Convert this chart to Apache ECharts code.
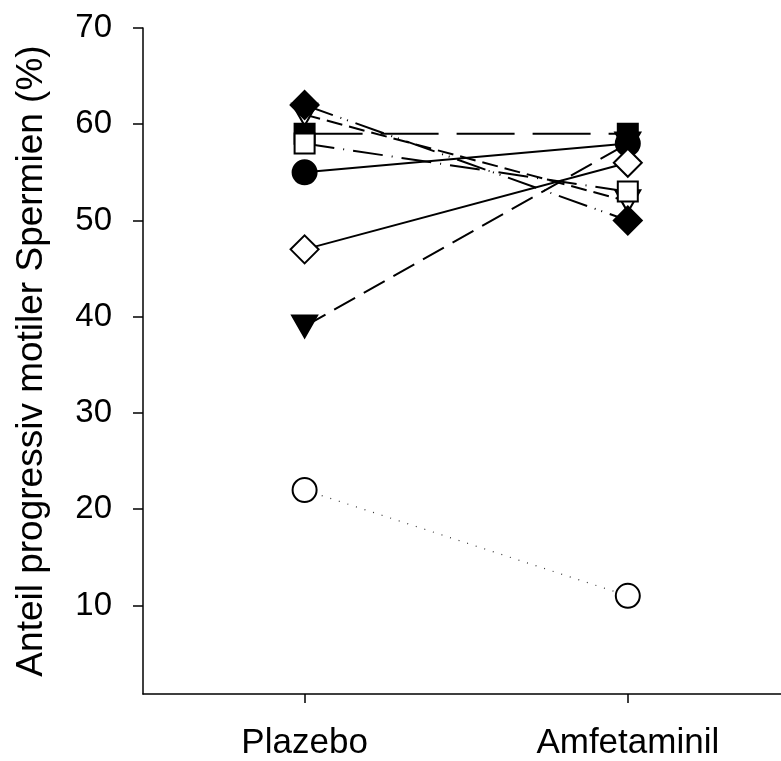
<!DOCTYPE html>
<html>
<head>
<meta charset="utf-8">
<script src="https://cdn.jsdelivr.net/npm/echarts@6/dist/echarts.min.js"></script>
<style>
  html, body { margin: 0; padding: 0; background: #fff; }
  #chart { width: 781px; height: 761px; }
</style>
</head>
<body>
<div id="chart"></div>
<script>
// ---- data ----
var categories = ['Plazebo', 'Amfetaminil'];
var yTicks = [10, 20, 30, 40, 50, 60, 70];
var openTriangleDown = [61, 52];
var filledCircle = [55, 58];
var filledSquare = [59, 59];
var openSquare = [58, 53];
var filledTriangleDown = [39, 58];
var filledDiamond = [62, 50];
var openDiamond = [47, 56];
var openCircle = [22, 11];

var FONT = '"Liberation Sans", Arial, Helvetica, sans-serif';
var catIdx = categories.map(function (c, i) { return i; });

function pairs(vals) {
  return vals.map(function (v, i) { return [i, v]; });
}

function mk(name, data, symbol, size, filled, lineType, extra) {
  var s = {
    name: name,
    type: 'line',
    data: pairs(data),
    symbol: symbol,
    symbolSize: size,
    showAllSymbol: true,
    lineStyle: { color: '#000', width: 2, type: lineType },
    itemStyle: { color: filled ? '#000' : '#fff', borderColor: '#000', borderWidth: 2, opacity: 1 },
    emphasis: { disabled: true },
    animation: false
  };
  if (extra) { for (var k in extra) s[k] = extra[k]; }
  return s;
}

var series = [
  mk('openTriangleDown', openTriangleDown, 'triangle', [25, 22], false, [16, 7], { symbolRotate: 180 }),
  mk('filledCircle', filledCircle, 'circle', 24, true, 'solid'),
  mk('filledSquare', filledSquare, 'rect', 20, true, [58, 18]),
  mk('openSquare', openSquare, 'rect', 20, false, [30, 9, 1, 9]),
  mk('filledTriangleDown', filledTriangleDown, 'triangle', [25, 22], true, [24, 10], { symbolRotate: 180 }),
  mk('filledDiamond', filledDiamond, 'diamond', [28, 28], true, [30, 8, 1, 6, 1, 8]),
  mk('openDiamond', openDiamond, 'diamond', [28, 28], false, 'solid'),
  mk('openCircle', openCircle, 'circle', 24, false, [1, 8])
];
series[7].lineStyle.width = 1.2;
series[7].lineStyle.color = '#333';

var chart = echarts.init(document.getElementById('chart'), null, { renderer: 'canvas' });
chart.setOption({
  backgroundColor: '#fff',
  animation: false,
  grid: { left: 143, top: 28, right: 0, height: 667 },
  xAxis: {
    type: 'value',
    min: -0.5,
    max: 1.474,
    axisLine: { show: true, onZero: false, lineStyle: { color: '#000', width: 1.5 } },
    axisTick: { show: true, length: 9, customValues: catIdx, lineStyle: { color: '#000', width: 1.5 } },
    axisLabel: {
      color: '#000', fontSize: 35, fontFamily: FONT, margin: 32,
      customValues: catIdx,
      formatter: function (v) { return categories[Math.round(v)]; }
    },
    splitLine: { show: false }
  },
  yAxis: {
    type: 'value',
    min: 0.8,
    max: 70,
    name: 'Anteil progressiv motiler Spermien (%)',
    nameLocation: 'middle',
    nameGap: 93,
    nameTextStyle: { color: '#000', fontSize: 37, fontFamily: FONT },
    axisLine: { show: true, onZero: false, lineStyle: { color: '#000', width: 1.5 } },
    axisTick: { show: true, length: 10, customValues: yTicks, lineStyle: { color: '#000', width: 1.5 } },
    axisLabel: { color: '#000', fontSize: 33, fontFamily: FONT, margin: 31, customValues: yTicks },
    splitLine: { show: false }
  },
  series: series
});
</script>
</body>
</html>
